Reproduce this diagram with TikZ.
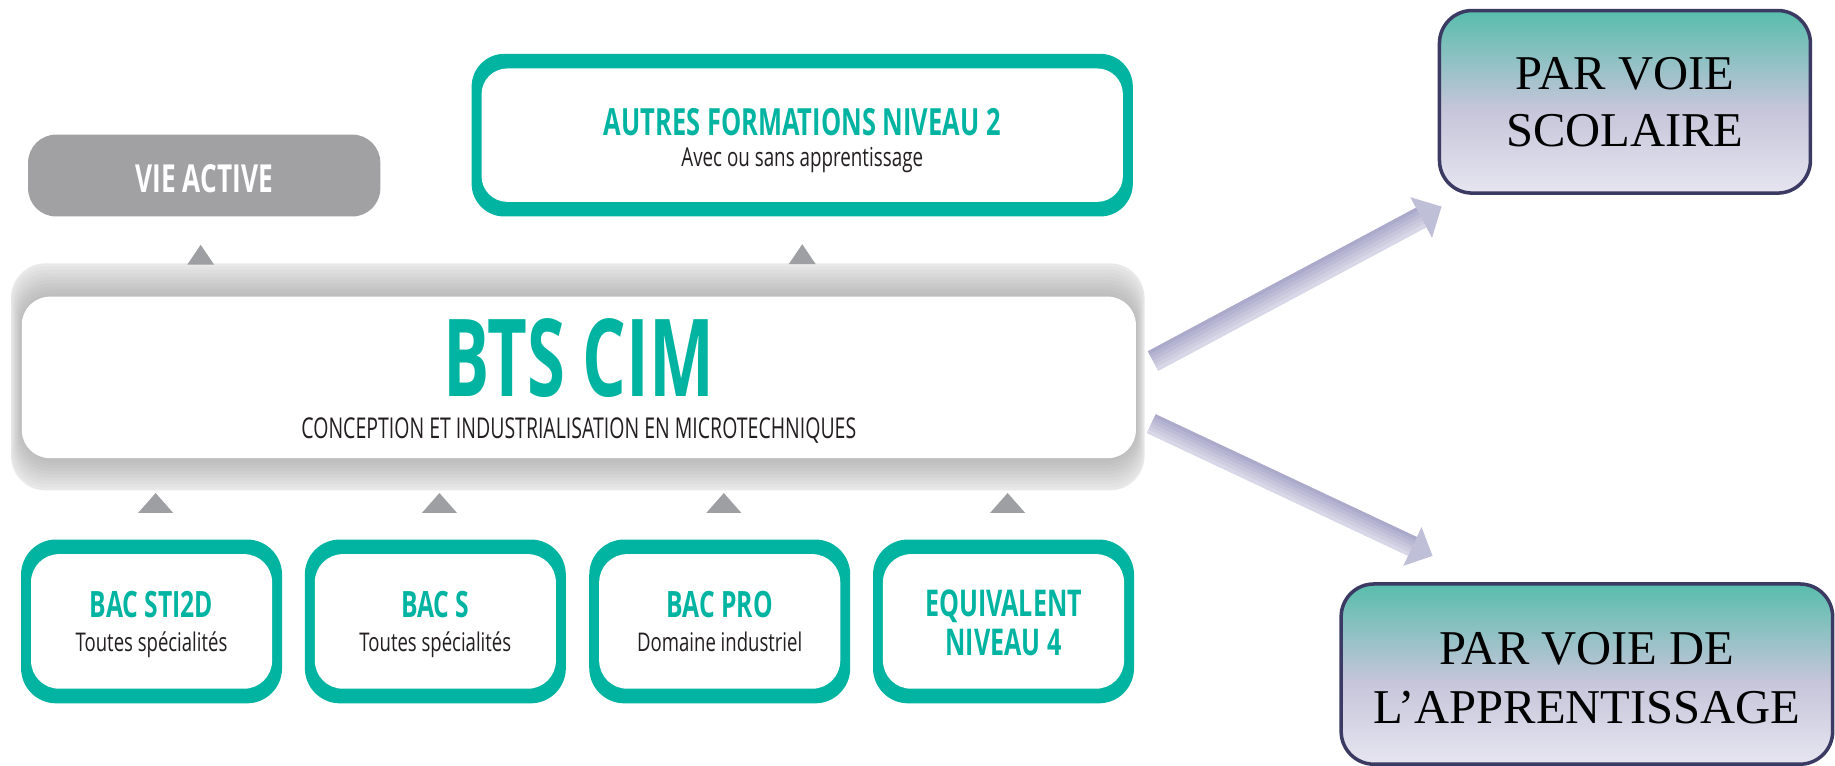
\documentclass[tikz,border=0pt]{standalone}
\usepackage{fontspec}
\setmainfont{Liberation Serif}
\newfontfamily\cnd[FakeStretch=0.68]{Open Sans}
\newfontfamily\cndl[FakeStretch=0.72]{Open Sans}
\usetikzlibrary{calc}
\definecolor{bteal}{HTML}{00B4A1}
\definecolor{vgray}{HTML}{A1A1A4}
\definecolor{trigray}{HTML}{9E9FA2}
\definecolor{navy}{HTML}{3B3A63}
\definecolor{vtop}{HTML}{58BDAC}
\definecolor{vmid}{HTML}{C6C5DA}
\definecolor{vbot}{HTML}{E6E5F0}
\definecolor{arrowdark}{HTML}{ABAACB}
\definecolor{arrowlight}{HTML}{D8D7E7}
\definecolor{arrowmid}{HTML}{C0BFD8}
\definecolor{tdark}{HTML}{231F20}
\definecolor{glowbase}{HTML}{EDEDED}
\pgfdeclareverticalshading{voie}{100bp}{color(0bp)=(vbot); color(25bp)=(vbot); color(48bp)=(vmid); color(75bp)=(vtop); color(100bp)=(vtop)}
\newcommand\bacline[1]{{\cnd\bfseries\color{bteal}\fontsize{31}{31}\selectfont #1}}
\newcommand\blockarrow[5]{%
  \coordinate (ba-H) at ($(#2)!#5pt!(#1)$);
  \fill[arrowmid] ($(#1)!#3pt!90:(#2)$) -- ($(ba-H)!#3pt!90:(#2)$) -- ($(ba-H)!#4pt!90:(#2)$) -- (#2)
     -- ($(ba-H)!#4pt!-90:(#2)$) -- ($(ba-H)!#3pt!-90:(#2)$) -- ($(#1)!#3pt!-90:(#2)$) -- cycle;
  \foreach \i in {0,...,5}{%
    \pgfmathsetmacro\dd{#3-(\i+0.5)*2*#3/6}
    \pgfmathtruncatemacro\pp{100-\i*20}
    \draw[line width=2*#3/6+0.4, arrowdark!\pp!arrowlight] ($(#1)!\dd pt!90:(#2)$) -- ($(ba-H)!\dd pt!90:(#2)$);
  }%
}
\begin{document}
\begin{tikzpicture}[x=1pt,y=-1pt,
  tealframe/.style={fill=bteal, inner sep=0pt, align=center,
    path picture={\fill[white, rounded corners=#1] ([shift={(8.5,-12.5)}]path picture bounding box.south west) rectangle ([shift={(-8.5,12.5)}]path picture bounding box.north east);}},
  bacbox/.style={tealframe=24, rounded corners=30, minimum width=223, minimum height=140,
    font=\cndl\fontsize{22}{29}\selectfont, text=tdark, text height=57.3, text depth=5.3},
  autbox/.style={tealframe=22, rounded corners=28, minimum width=565, minimum height=139,
    font=\cndl\fontsize{22.3}{27.2}\selectfont, text=tdark, text height=59.6, text depth=5.35},
  viebox/.style={fill=vgray, rounded corners=24, minimum width=301, minimum height=70, inner sep=0pt,
    font=\cnd\bfseries\fontsize{33}{33}\selectfont, text=white, text height=29.2},
  btsbox/.style={fill=white, rounded corners=24, minimum width=952, minimum height=138, inner sep=0pt,
    align=center, font=\cnd\fontsize{24.5}{36}\selectfont, text=tdark, text height=110, text depth=5},
  voiebox/.style={shading=voie, draw=navy, line width=3, rounded corners=28, inner sep=0pt,
    align=center, font=\fontsize{41.5}{49}\selectfont, text=black},
  uptri/.pic={\fill[trigray] (-#1,8.5) -- (#1,8.5) -- (0,-8.5) -- cycle;}
]
\useasboundingbox (0,0) rectangle (1568,654.5);

% soft grey glow behind the BTS box
\fill[glowbase, rounded corners=30] (9.4,225) rectangle (978,419);
\foreach \k in {0,...,9}{
  \pgfmathsetmacro\f{\k/10}
  \fill[black, opacity=0.018, rounded corners=28] ({9.4+9*\f},{225+28.5*\f}) rectangle ({978-7.3*\f},{419-27.4*\f});
}

\node[btsbox] (bts) at (494.6,322.5)
  {{\bfseries\color{bteal}\fontsize{92}{92}\selectfont\scalebox{0.94}[1]{BTS CIM}}\\CONCEPTION ET INDUSTRIALISATION EN MICROTECHNIQUES};

\node[viebox] (vie) at (174.5,150) {VIE ACTIVE};
\node[autbox] (aut) at (685.5,115.5)
  {{\cnd\bfseries\color{bteal}\fontsize{32}{32}\selectfont AUTRES FORMATIONS NIVEAU 2}\\Avec ou sans apprentissage};

\node[bacbox] (b1) at (129.5,531) {\bacline{BAC STI2D}\\Toutes spécialités};
\node[bacbox] (b2) at (372,531) {\bacline{BAC S}\\Toutes spécialités};
\node[bacbox] (b3) at (615,531) {\bacline{BAC PRO}\\Domaine industriel};
\node[bacbox, font=\cnd\bfseries\fontsize{31.5}{33}\selectfont, text=bteal, text height=58, text depth=0] (b4) at (857.5,531) {EQUIVALENT\\NIVEAU 4};

\node[voiebox, minimum width=317, minimum height=156, text height=76.5, text depth=0] (scol) at (1388.5,87) {PAR VOIE\\SCOLAIRE};
\node[voiebox, minimum width=420, minimum height=154, font=\fontsize{41.5}{50}\selectfont, text height=84, text depth=0] (appr) at (1356,576) {PAR VOIE DE\\L’APPRENTISSAGE};

% small grey arrowheads
\pic at ($(vie.south)+(-3,32.5)$) {uptri=11.5};
\pic at ($(aut.south)+(0,32)$) {uptri=11.5};
\pic at ($(b1.north)+(3.5,-31)$) {uptri=15};
\pic at ($(b2.north)+(3.5,-31)$) {uptri=15};
\pic at ($(b3.north)+(3.5,-31)$) {uptri=15};
\pic at ($(b4.north)+(3.5,-31)$) {uptri=15};

% block arrows
\coordinate (s1) at ($(bts.east)+(14.5,-14)$);
\coordinate (t1) at ($(scol.south west)+(3.3,10)$);
\coordinate (s2) at ($(bts.east)+(13,39.5)$);
\coordinate (t2) at ($(appr.north west)+(79.6,-22.5)$);
\blockarrow{s1}{t1}{9.3}{19.7}{19.8}
\blockarrow{s2}{t2}{8.7}{18.3}{19}
\end{tikzpicture}
\end{document}
